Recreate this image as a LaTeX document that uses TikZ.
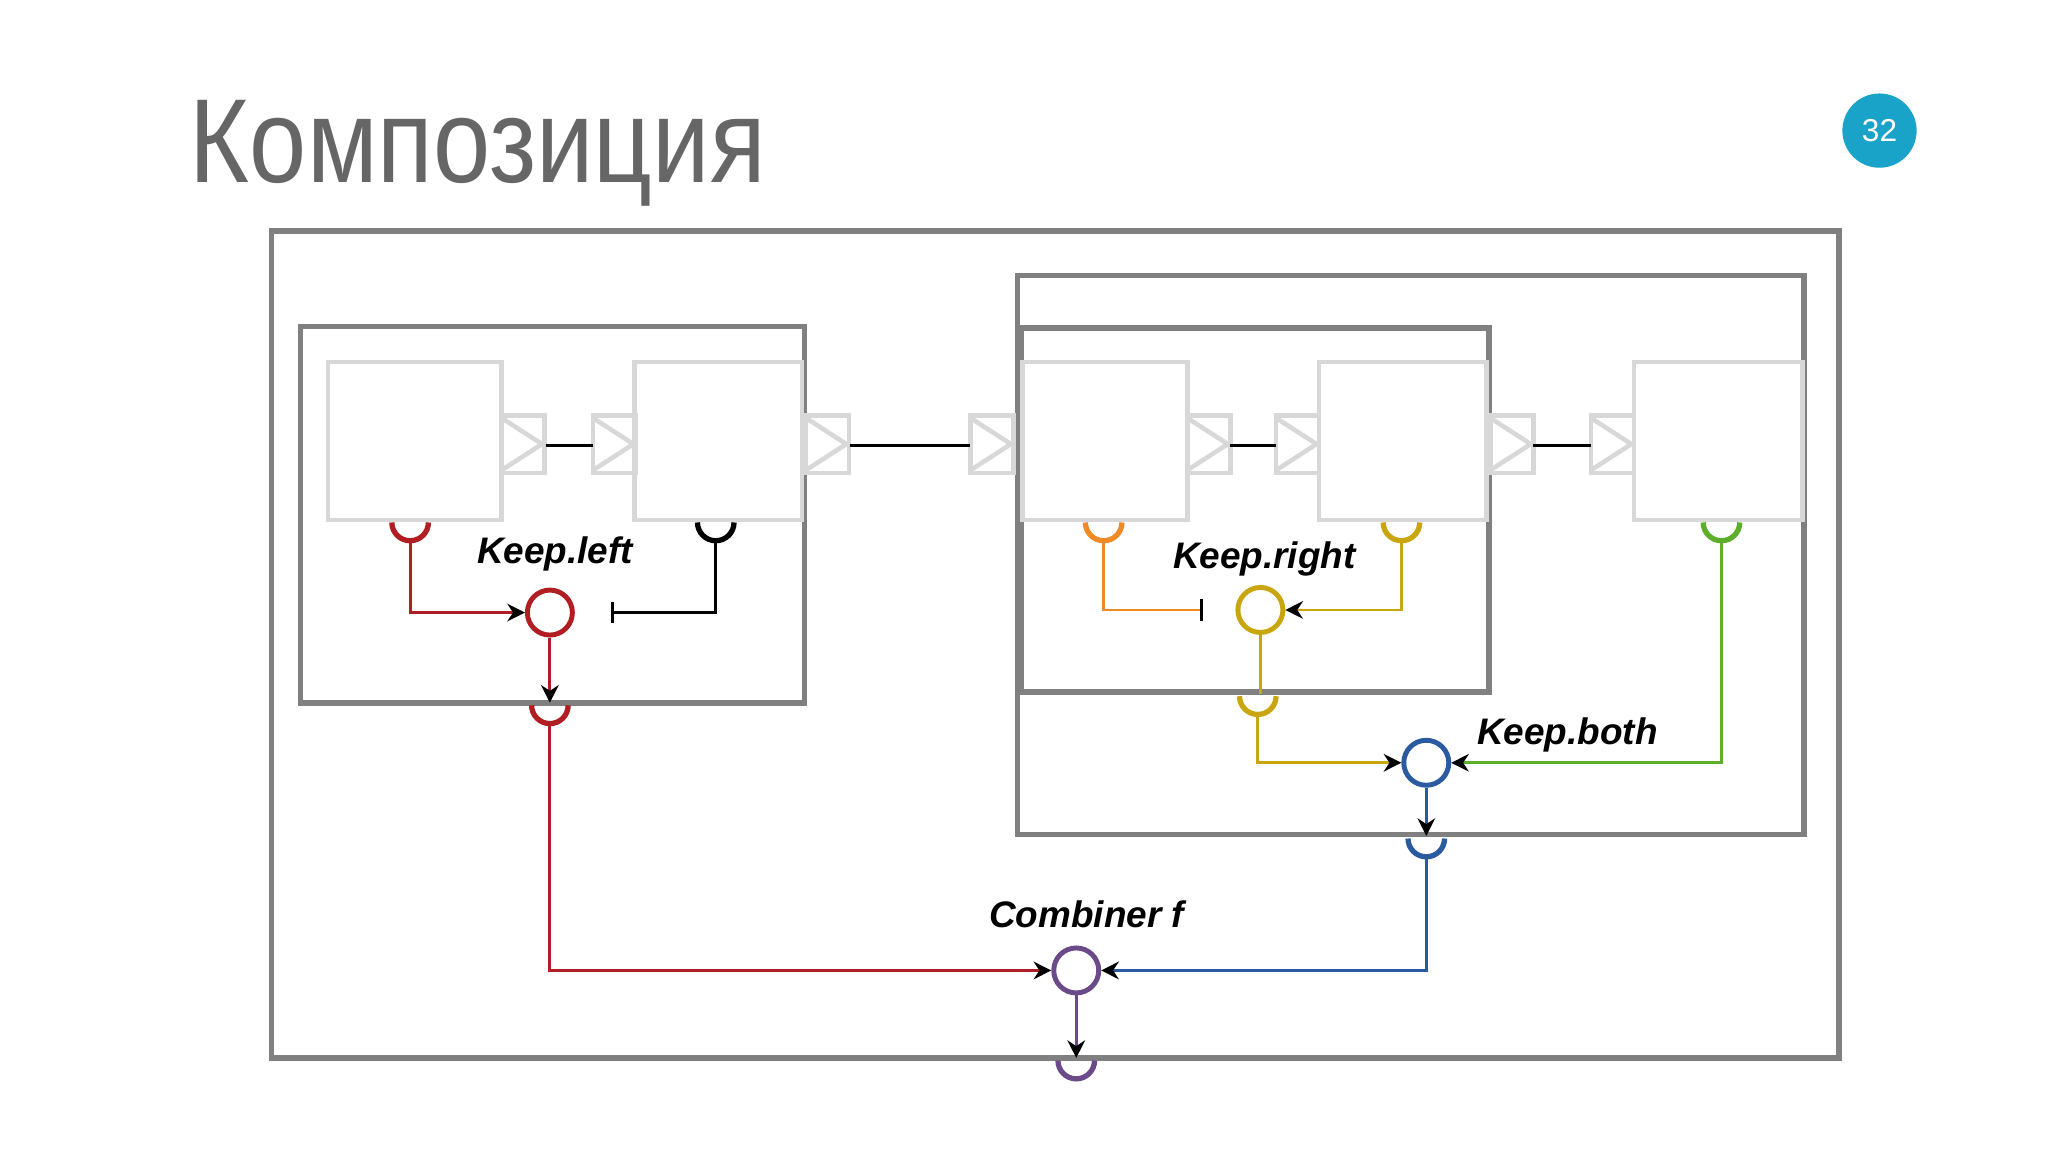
\documentclass[tikz,border=0pt]{standalone}
\usepackage{fontspec}
\setmainfont{Liberation Sans}
\usetikzlibrary{arrows.meta}
\definecolor{cred}{HTML}{B01E23}
\definecolor{corange}{HTML}{F08A24}
\definecolor{cyellow}{HTML}{C9A60E}
\definecolor{cgreen}{HTML}{5DAE2A}
\definecolor{cblue}{HTML}{2A5AA0}
\definecolor{cpurple}{HTML}{6B4A8A}
\definecolor{cframe}{HTML}{808080}
\definecolor{clight}{HTML}{D8D8D8}
\definecolor{cbadge}{HTML}{1AA3C8}
\begin{document}
\begin{tikzpicture}[x=0.013061cm,y=-0.013061cm,
  frame/.style={draw=cframe,line width=1.6pt},
  comp/.style={draw=clight,line width=1.3pt,fill=white},
  port/.style={draw=clight,line width=1.3pt},
  wire/.style={line width=0.8pt},
  ring/.style={circle,draw,line width=1.4pt,minimum size=0.45cm,inner sep=0pt,fill=white},
  cup/.style={line width=1.5pt},
  arr/.style={-{Stealth[black,length=5pt,width=5pt]}},
  lbl/.style={font=\bfseries\itshape\fontsize{10.5}{12}\selectfont}]
\useasboundingbox (0,0) rectangle (1568,882);
% title and badge
\node[anchor=base west,text=black!60,font=\fontsize{34}{40}\selectfont,xscale=0.86,inner sep=0pt] (title) at (145,140) {Композиция};
\node[circle,fill=cbadge,minimum size=0.68cm,text=white,font=\fontsize{9}{10}\selectfont] (badge) at (1439,100) {32};
% frames
\draw[frame] (208,177) rectangle (1408,810);
\draw[frame] (230,250) rectangle (616,538);
\draw[frame] (779,211) rectangle (1381,639);
\draw[frame] (782,251) rectangle (1140,530);
% components
\foreach \a/\b in {251/384,486/614,783/909,1010/1138,1251/1380}{
  \draw[comp] (\a,277) rectangle (\b,398);}
% ports
\foreach \a in {384,454,617,743,909,977,1141,1218}{
  \draw[port] (\a,318) rectangle (\a+33,362);
  \draw[port] (\a,320) -- (\a+31,340) -- (\a,360);}
\foreach \a/\b in {418/454,651/743,942/977,1174/1218}{
  \coordinate (p\a) at (\a,341); \coordinate (q\b) at (\b,341);
  \draw[wire] (p\a) -- (q\b);}
% cups: name is bottom point
\newcommand{\cupdraw}[4]{\draw[cup,#1] (#2-14,#3) arc[start angle=180,end angle=0,radius=14];
  \coordinate (#4) at (#2,#3+14);}
\cupdraw{cred}{314}{400}{cr}
\cupdraw{black}{548}{400}{ck}
\cupdraw{cred}{421}{540}{crout}
\cupdraw{corange}{845}{400}{co}
\cupdraw{cyellow}{1073}{400}{cy}
\cupdraw{cyellow}{963}{533}{cyout}
\cupdraw{cgreen}{1318}{400}{cg}
\cupdraw{cblue}{1092}{642}{cbout}
\cupdraw{cpurple}{824}{812}{cpout}
% combinators
\node[ring,draw=cred] (kl) at (421,469) {};
\node[ring,draw=cyellow] (kr) at (965,467) {};
\node[ring,draw=cblue] (kb) at (1092,584) {};
\node[ring,draw=cpurple] (cf) at (824,743) {};
\node[lbl] (lkl) at (425,424) {Keep.left};
\node[lbl] (lkr) at (968,428) {Keep.right};
\node[lbl] (lkb) at (1200,563) {Keep.both};
\node[lbl] (lcf) at (832,700) {Combiner f};
\coordinate (kbar) at (468,469);
\coordinate (obar) at (921,467);
\coordinate (rin) at (421,538);
\coordinate (yin) at (965,531);
\coordinate (bin) at (1092,640);
\coordinate (pin) at (824,810);
% wires
\draw[wire,cred,arr] (cr) |- (kl);
\draw[wire,black,-{Bar[width=6pt]}] (ck) |- (kbar);
\draw[wire,cred,arr] (kl) -- (rin);
\draw[wire,cred,arr] (crout) |- (cf);
\draw[wire,corange,-{Bar[black,width=6pt]}] (co) |- (obar);
\draw[wire,cyellow,arr] (cy) |- (kr);
\draw[wire,cyellow] (kr) -- (yin);
\draw[wire,cyellow,arr] (cyout) |- (kb);
\draw[wire,cgreen,arr] (cg) |- (kb);
\draw[wire,cblue,arr] (kb) -- (bin);
\draw[wire,cblue,arr] (cbout) |- (cf);
\draw[wire,cpurple,arr] (cf) -- (pin);
\end{tikzpicture}
\end{document}
